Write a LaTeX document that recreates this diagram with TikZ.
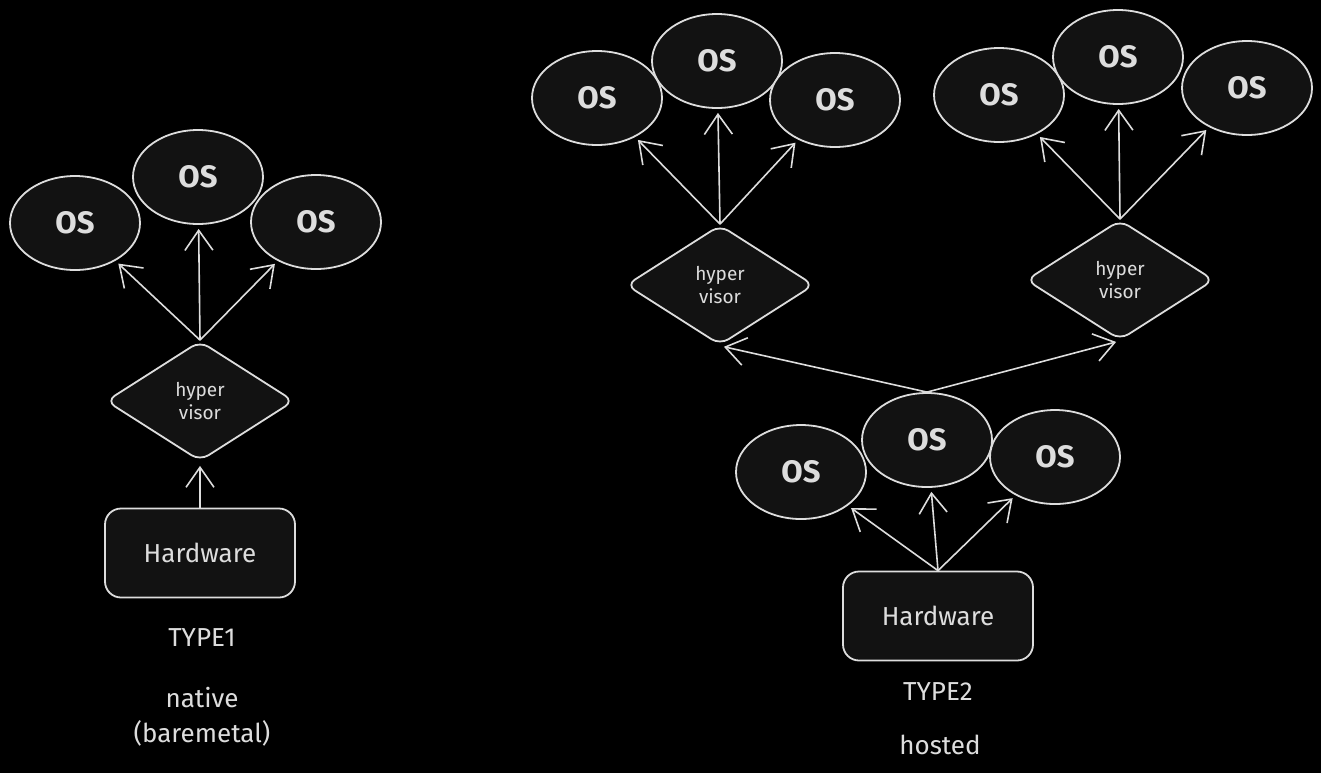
\documentclass[tikz,border=0pt]{standalone}
\usepackage{fontspec}
\setmainfont{Fira Sans}
\usetikzlibrary{shapes.geometric,arrows.meta}
\definecolor{ink}{HTML}{DDDDDD}
\definecolor{shapefill}{HTML}{121212}
\begin{document}
\begin{tikzpicture}[x=0.5pt,y=-0.5pt,
  os/.style={ellipse,draw=ink,fill=shapefill,line width=0.9pt,minimum width=65pt,minimum height=47pt,text=ink,font=\fontsize{15.5}{18}\selectfont\bfseries,inner sep=0pt},
  hv/.style={diamond,draw=ink,fill=shapefill,line width=0.9pt,minimum width=94pt,minimum height=60pt,rounded corners=5pt,text=ink,font=\fontsize{9.5}{11.5}\selectfont,align=center,inner sep=0pt},
  hw/.style={rectangle,rounded corners=8pt,draw=ink,fill=shapefill,line width=0.9pt,minimum width=95pt,minimum height=44.5pt,text=ink,font=\fontsize{13}{15}\selectfont},
  lbl/.style={text=ink,font=\fontsize{13}{17.5}\selectfont,align=center},
  arr/.style={draw=ink,line width=0.8pt,shorten >=2pt,-{Straight Barb[length=10pt,width=14pt]}}
]
\fill[black] (0,0) rectangle (1321,773);
\useasboundingbox (0,0) rectangle (1321,773);

% TYPE 1
\node[os] (o1a) at (75,223) {OS};
\node[os] (o1b) at (198,177) {OS};
\node[os] (o1c) at (316,222) {OS};
\node[hv] (d1) at (200,401) {hyper\\visor};
\node[hw] (hw1) at (200,553) {Hardware};
\node[lbl] (t1) at (202,638) {TYPE1};
\node[lbl] (n1) at (202,717) {native\\(baremetal)};

\draw[arr] (d1.north) -- (o1a);
\draw[arr] (d1.north) -- (o1b);
\draw[arr] (d1.north) -- (o1c);
\draw[arr] (hw1.north) -- (d1.south);

% TYPE 2 upper left
\node[os] (o2a) at (597,98) {OS};
\node[os] (o2b) at (717,61) {OS};
\node[os] (o2c) at (835,100) {OS};
\node[hv] (d2) at (720,285) {hyper\\visor};

% TYPE 2 upper right
\node[os] (o3a) at (999,95) {OS};
\node[os] (o3b) at (1118,57) {OS};
\node[os] (o3c) at (1247,88) {OS};
\node[hv] (d3) at (1120,280) {hyper\\visor};

% TYPE 2 lower
\node[os] (o4a) at (801,472) {OS};
\node[os] (o4b) at (927,440) {OS};
\node[os] (o4c) at (1055,457) {OS};
\node[hw] (hw2) at (938,616) {Hardware};
\node[lbl] (t2) at (938,692) {TYPE2};
\node[lbl] (n2) at (940,745) {hosted};

\draw[arr] (d2.north) -- (o2a);
\draw[arr] (d2.north) -- (o2b);
\draw[arr] (d2.north) -- (o2c);
\draw[arr] (d3.north) -- (o3a);
\draw[arr] (d3.north) -- (o3b);
\draw[arr] (d3.north) -- (o3c);
\draw[arr] (hw2.north) -- (o4a);
\draw[arr] (hw2.north) -- (o4b);
\draw[arr] (hw2.north) -- (o4c);
\draw[arr] (o4b.north) -- (d2.south);
\draw[arr] (o4b.north) -- (d3.south);
\end{tikzpicture}
\end{document}
